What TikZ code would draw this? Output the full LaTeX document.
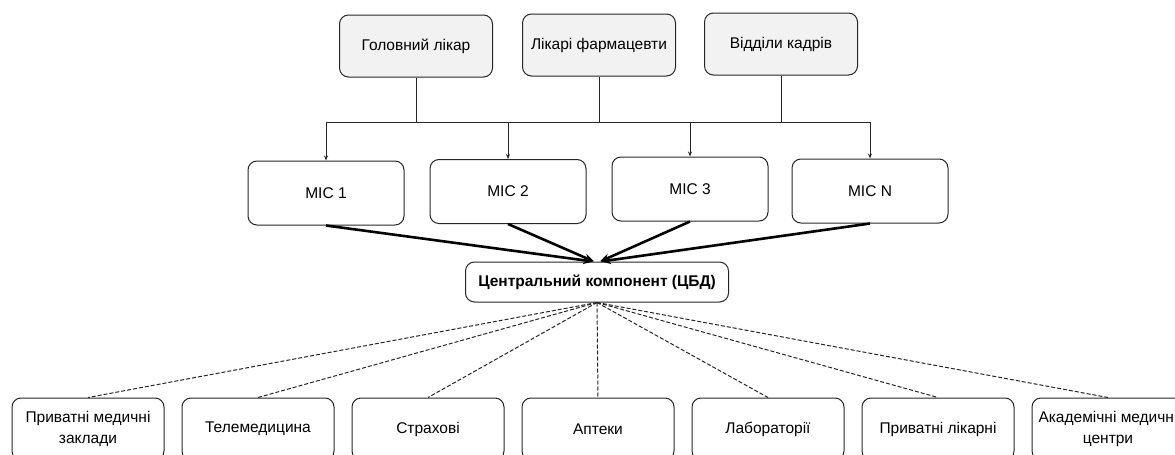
\documentclass[tikz,border=0pt]{standalone}
\usepackage{fontspec}
\setmainfont{Liberation Sans}
\usetikzlibrary{arrows.meta}
\tikzset{every node/.style={rectangle,rounded corners=9pt,draw=black!85,line width=1pt,align=center,inner sep=2pt,font=\fontsize{15.5}{21}\selectfont}}
\tikzset{topbox/.style={fill=black!5,minimum width=153pt,minimum height=62pt}}
\tikzset{misbox/.style={minimum width=156pt,minimum height=64pt}}
\tikzset{srcbox/.style={minimum width=152pt,minimum height=62pt}}
\tikzset{link/.style={draw=black!85,line width=1pt}}
\tikzset{thick link/.style={draw=black,line width=2.6pt,-{Stealth[length=10pt,width=8pt]}}}
\tikzset{data link/.style={draw=black!85,line width=1pt,dash pattern=on 4pt off 2pt}}

\begin{document}
\begin{tikzpicture}[x=1pt,y=-1pt]
      \useasboundingbox (0,0) rectangle (1175,455);
      % users
      \node[topbox] (head) at (416,46) {Головний лікар};
      \node[topbox] (pharm) at (599,45) {Лікарі фармацевти};
      \node[topbox] (staff) at (781,44) {Відділи кадрів};
      % medical information systems
      \node[misbox] (mis1) at (326,193) {MIC 1};
      \node[misbox] (mis2) at (508,191.5) {MIC 2};
      \node[misbox] (mis3) at (690,189) {MIC 3};
      \node[misbox] (misN) at (870,191) {MIC N};
      \node[minimum width=263pt,minimum height=40pt] (cbd) at (597,282) {\textbf{Центральний компонент (ЦБД)}};
      % sources
      \node[srcbox] (priv) at (88,429) {Приватні медичні\\заклади};
      \node[srcbox] (tele) at (258,429) {Телемедицина};
      \node[srcbox] (ins) at (428,429) {Страхові};
      \node[srcbox] (pharmacy) at (598,429) {Аптеки};
      \node[srcbox] (lab) at (768,429) {Лабораторії};
      \node[srcbox] (clinic) at (938,429) {Приватні лікарні};
      \node[srcbox] (acad) at (1108,429) {Академічні медичні\\центри};
      \coordinate (busL) at (326,122);
      \coordinate (busR) at (870,122);
        \draw[link] (busL) -- (busR);
        \draw[link] (head) -- (head |- busL);
        \draw[link] (pharm) -- (pharm |- busL);
        \draw[link] (staff) -- (staff |- busL);
        \draw[link,-{Stealth[length=5pt,width=4pt]}] (busL) -- (mis1);
        \draw[link,-{Stealth[length=5pt,width=4pt]}] (mis2 |- busL) -- (mis2);
        \draw[link,-{Stealth[length=5pt,width=4pt]}] (mis3 |- busL) -- (mis3);
        \draw[link,-{Stealth[length=5pt,width=4pt]}] (busR) -- (misN);
        \draw[thick link] (mis1.south) -- ([xshift=-4pt]cbd.north);
        \draw[thick link] (mis2.south) -- ([xshift=-3pt]cbd.north);
        \draw[thick link] (mis3.south) -- ([xshift=3pt]cbd.north);
        \draw[thick link] (misN.south) -- ([xshift=4pt]cbd.north);
        \foreach \s in {priv,tele,ins,pharmacy,lab,clinic,acad}
          \draw[data link] (cbd.south) -- (\s.north);
    \end{tikzpicture}
\end{document}
